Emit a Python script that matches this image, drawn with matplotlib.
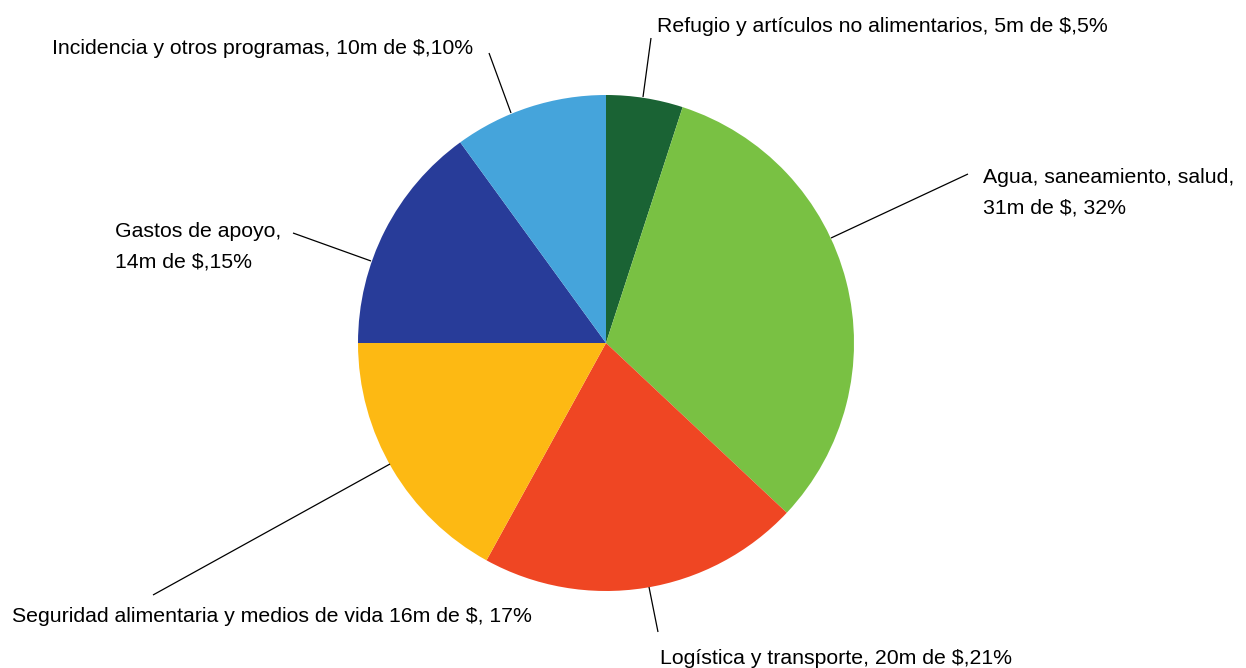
import matplotlib
matplotlib.use("Agg")
import matplotlib.pyplot as plt

# ---- data ----
categories = [
    "Refugio y artículos no alimentarios",
    "Agua, saneamiento, salud",
    "Logística y transporte",
    "Seguridad alimentaria y medios de vida",
    "Gastos de apoyo",
    "Incidencia y otros programas",
]
percentages = [5, 32, 21, 17, 15, 10]
millions = [5, 31, 20, 16, 14, 10]
label_texts = [
    "Refugio y artículos no alimentarios, 5m de $,5%",
    "Agua, saneamiento, salud,\n31m de $, 32%",
    "Logística y transporte, 20m de $,21%",
    "Seguridad alimentaria y medios de vida 16m de $, 17%",
    "Gastos de apoyo,\n14m de $,15%",
    "Incidencia y otros programas, 10m de $,10%",
]
colors = ["#1a6334", "#79c143", "#ef4623", "#fdb913", "#283c99", "#45a4db"]

# ---- layout (pixel space, y measured from top) ----
W, H = 1246, 668
CX, CY, R = 606, 343, 248
# (text x, text y, line start (outer), line end (on pie))
layout = [
    (657, 27, (651, 38), (643, 97)),
    (983, 193, (968, 174), (831, 238)),
    (660, 659, (658, 632), (649, 587)),
    (12, 616, (153, 595), (390, 464)),
    (115, 247, (293, 233), (371, 261)),
    (52, 48, (489, 53), (511, 113)),
]

plt.rcParams['font.family'] = ['Liberation Sans', 'DejaVu Sans']

fig = plt.figure(figsize=(W / 100, H / 100), dpi=100)
ax = fig.add_axes([0, 0, 1, 1])

def fy(y):
    return H - y

ax.pie(percentages, colors=colors, startangle=90, counterclock=False,
       center=(CX, fy(CY)), radius=R, wedgeprops=dict(linewidth=0))

for txt, (tx, ty, p_out, p_in) in zip(label_texts, layout):
    ax.plot([p_out[0], p_in[0]], [fy(p_out[1]), fy(p_in[1])],
            color="black", lw=0.9, solid_capstyle="butt")
    ax.text(tx, fy(ty), txt, ha="left", va="center", fontsize=15.3,
            color="black", linespacing=1.8)

ax.set_xlim(0, W)
ax.set_ylim(0, H)
ax.set_aspect("equal")
ax.axis("off")

fig.savefig("out.png", dpi=100)
